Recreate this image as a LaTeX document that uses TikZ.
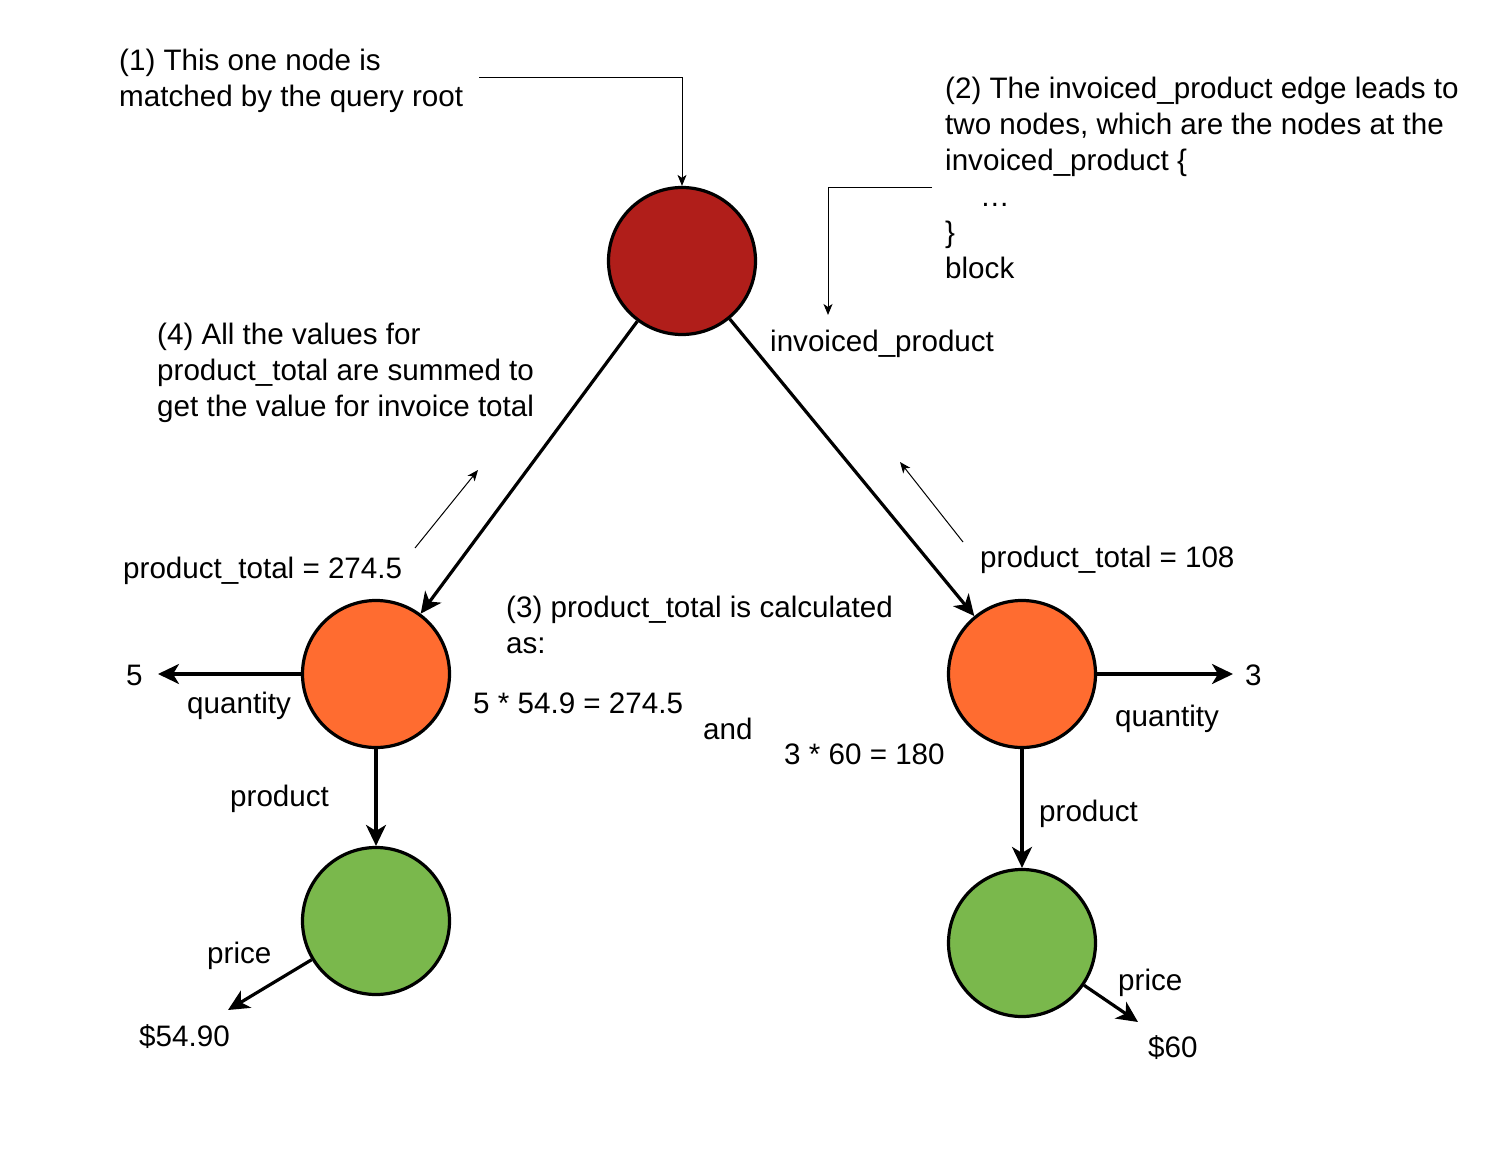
\documentclass[tikz,border=0pt]{standalone}
\usepackage{fontspec}
\setmainfont{Liberation Sans}
\usetikzlibrary{arrows.meta}
\definecolor{rootred}{RGB}{176,30,26}
\definecolor{itemorange}{RGB}{255,108,48}
\definecolor{pricegreen}{RGB}{122,184,76}
\begin{document}
\begin{tikzpicture}[x=1pt, y=-1pt,
    every node/.style={font=\fontsize{29.6}{36}\selectfont, inner sep=0pt},
    obj/.style={circle, draw, line width=3.2pt, minimum size=147pt},
    link/.style={line width=3.2pt, -{Stealth[length=21pt, width=20pt, inset=6pt]}},
    hint/.style={line width=1pt, -{Stealth[length=11pt, width=9pt, inset=3pt]}},
    txt/.style={anchor=base west},
    para/.style={anchor=north west, align=left}]
    \useasboundingbox (0,0) rectangle (1506,1150);
    % the objects
    \node[obj, fill=rootred] (root) at (682,261) {};
    \node[obj, fill=itemorange] (ipL) at (376,674) {};
    \node[obj, fill=itemorange] (ipR) at (1022,674) {};
    \node[obj, fill=pricegreen] (prodL) at (376,921) {};
    \node[obj, fill=pricegreen] (prodR) at (1022,943) {};
    % free ends of the edges
    \coordinate (q5) at (158,674);
    \coordinate (q3) at (1233,674);
    \coordinate (v5490) at (228,1010);
    \coordinate (v60) at (1138,1022);
    % edges
    \draw[link] (root) -- (ipL);
    \draw[link] (root) -- (ipR);
    \draw[link] (ipL) -- (prodL);
    \draw[link] (ipR) -- (prodR);
    \draw[link] (ipL.west) -- (q5);
    \draw[link] (ipR.east) -- (q3);
    \draw[link] (prodL) -- (v5490);
    \draw[link] (prodR) -- (v60);
    % edge labels and values
    \node[txt] (lIP) at (770,351) {invoiced\_product};
    \node[txt] (lQL) at (187,713) {quantity};
    \node[txt] (lQR) at (1115,726) {quantity};
    \node[txt] (lPL) at (230,806) {product};
    \node[txt] (lPR) at (1039,821) {product};
    \node[txt] (lCL) at (207,963) {price};
    \node[txt] (lCR) at (1118,990) {price};
    \node[txt] (val5) at (126,685) {5};
    \node[txt] (val3) at (1245,685) {3};
    \node[txt] (val5490) at (139,1046) {\$54.90};
    \node[txt] (val60) at (1148,1057) {\$60};
    % notes
    \node[para] (n1) at (119,49) {(1) This one node is\\matched by the query root};
    \node[para] (n2) at (945,77) {(2) The invoiced\_product edge leads to\\two nodes, which are the nodes at the\\invoiced\_product \{\\\hspace*{35pt}…\\\}\\block};
    \node[para] (n4) at (157,323) {(4) All the values for\\product\_total are summed to\\get the value for invoice total};
    \node[para] (n3) at (506,596) {(3) product\_total is calculated\\as:};
    \node[txt] (tL) at (123,578) {product\_total = 274.5};
    \node[txt] (tR) at (980,567) {product\_total = 108};
    \node[txt] (f1) at (473,713) {5 * 54.9 = 274.5};
    \node[txt] (f2) at (703,739) {and};
    \node[txt] (f3) at (784,764) {3 * 60 = 180};
    % thin pointers
    \coordinate (c2) at (932,188);
    \coordinate (c2e) at (828,315);
    \coordinate (sL) at (415,548);
    \coordinate (sLe) at (478,470);
    \coordinate (sR) at (963,542);
    \coordinate (sRe) at (900,462);
    \draw[hint] ([xshift=16pt, yshift=3pt]n1.east) -| (root.north);
    \draw[hint] (c2) -| (c2e);
    \draw[hint] (sL) -- (sLe);
    \draw[hint] (sR) -- (sRe);
\end{tikzpicture}
\end{document}
